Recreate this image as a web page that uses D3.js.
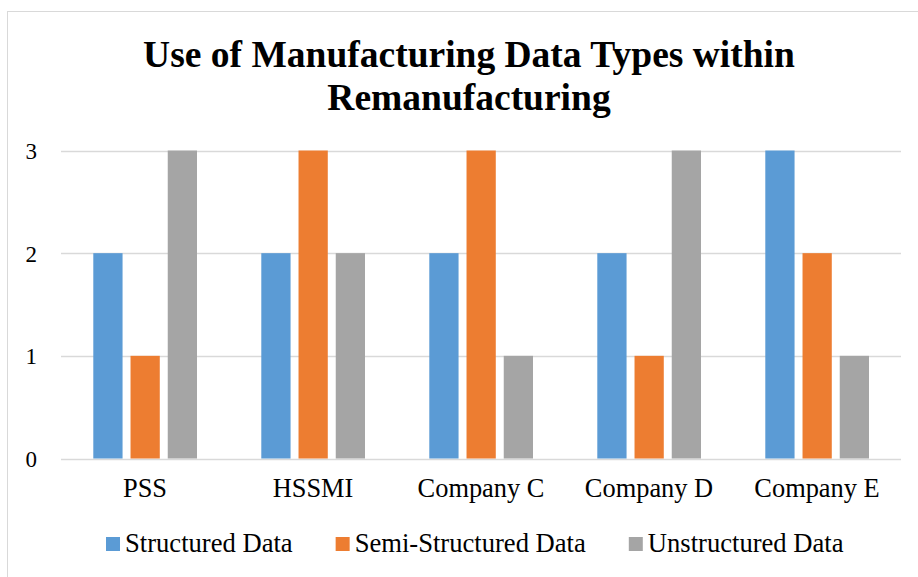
<!DOCTYPE html>
<html>
<head>
<meta charset="utf-8">
<script src="https://cdn.jsdelivr.net/npm/d3@7"></script>
<style>
  html, body { margin: 0; padding: 0; background: #fff; }
  svg { display: block; }
  text { font-family: "Liberation Serif", "Times New Roman", serif; fill: #000; }
</style>
</head>
<body>
<svg id="chart" width="918" height="577"></svg>
<script>
const categories = ["PSS", "HSSMI", "Company C", "Company D", "Company E"];
const seriesNames = ["Structured Data", "Semi-Structured Data", "Unstructured Data"];
const structuredData = [2, 2, 2, 2, 3];
const semiStructuredData = [1, 3, 3, 1, 2];
const unstructuredData = [3, 2, 1, 3, 1];
const yTicks = [0, 1, 2, 3];
const titleLines = ["Use of Manufacturing Data Types within", "Remanufacturing"];
const colors = ["#5B9BD5", "#ED7D31", "#A5A5A5"];

const seriesValues = [structuredData, semiStructuredData, unstructuredData];

const svg = d3.select("#chart");

// chart border
svg.append("rect")
  .attr("x", 7.5).attr("y", 11.5)
  .attr("width", 1000).attr("height", 1000)
  .attr("fill", "none").attr("stroke", "#d9d9d9").attr("stroke-width", 1);

// title
const title = svg.append("text")
  .attr("text-anchor", "middle")
  .style("font-size", "37.5px")
  .style("font-weight", "bold");
titleLines.forEach((t, i) => {
  title.append("tspan").attr("x", 469).attr("y", 66.7 + i * 43.5).text(t);
});

const plotLeft = 61, plotRight = 901, plotTop = 150.5, plotBottom = 458.5;

const x0 = d3.scaleBand().domain(categories).range([plotLeft, plotRight]).padding(0);
const x1 = d3.scaleBand().domain(seriesNames).range([32.3, 136]).paddingInner(0.214).paddingOuter(0);
const y = d3.scaleLinear().domain([0, 3]).range([plotBottom, plotTop]);

// gridlines
svg.append("g").selectAll("line").data(yTicks).join("line")
  .attr("x1", plotLeft).attr("x2", plotRight)
  .attr("y1", d => Math.round(y(d)) + 0.5).attr("y2", d => Math.round(y(d)) + 0.5)
  .attr("stroke", "#d9d9d9").attr("stroke-width", 1.3);

// y tick labels
svg.append("g").selectAll("text").data(yTicks).join("text")
  .attr("x", 37).attr("y", d => y(d) + 8.5)
  .attr("text-anchor", "end")
  .style("font-size", "23px")
  .text(d => d);

// bars
const flat = [];
categories.forEach((c, ci) => {
  seriesNames.forEach((s, si) => {
    flat.push({ cat: c, series: s, si, value: seriesValues[si][ci] });
  });
});
svg.append("g").selectAll("rect").data(flat).join("rect")
  .attr("x", d => x0(d.cat) + x1(d.series))
  .attr("width", x1.bandwidth())
  .attr("y", d => y(d.value))
  .attr("height", d => y(0) - y(d.value))
  .attr("fill", d => colors[d.si]);

// category labels
svg.append("g").selectAll("text").data(categories).join("text")
  .attr("x", d => x0(d) + x0.bandwidth() / 2)
  .attr("y", 497)
  .attr("text-anchor", "middle")
  .style("font-size", "26.4px")
  .text(d => d);

// legend
const legend = svg.append("g");
let lx = 106;
seriesNames.forEach((s, i) => {
  legend.append("rect")
    .attr("x", lx).attr("y", 537).attr("width", 14).attr("height", 14)
    .attr("fill", colors[i]);
  const t = legend.append("text")
    .attr("x", lx + 19).attr("y", 551.5)
    .style("font-size", "26.6px")
    .text(s);
  const w = t.node().getComputedTextLength();
  lx = lx + 19 + w + 43;
});
</script>
</body>
</html>
